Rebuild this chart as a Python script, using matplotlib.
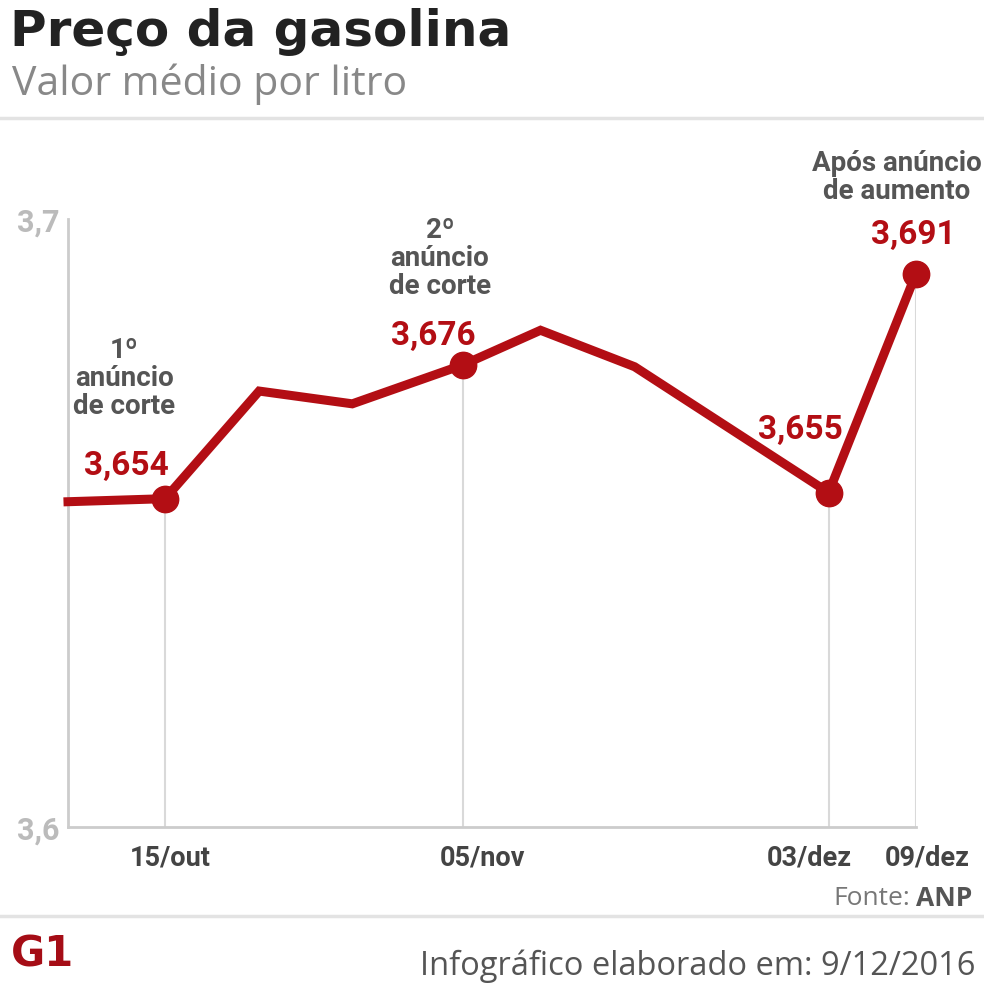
import matplotlib.pyplot as plt

week = [0, 1.0, 1.97, 2.93, 4.07, 4.87, 5.84, 7.84, 8.74]
price = [3.6535, 3.654, 3.6717, 3.6696, 3.676, 3.6817, 3.6757, 3.655, 3.691]

# highlighted dates
tick_week = [1.0, 4.07, 7.84, 8.74]
tick_labels = ['15/out', '05/nov', '03/dez', '09/dez']
hl_price = [3.654, 3.676, 3.655, 3.691]
hl_text = ['3,654', '3,676', '3,655', '3,691']
notes = ['1º\nanúncio\nde corte', '2º\nanúncio\nde corte', '', 'Após anúncio\nde aumento']

RED = '#b30e14'
W, H = 984, 987
cond = ['Roboto', 'DejaVu Sans']
sans = ['Open Sans', 'DejaVu Sans']

fig = plt.figure(figsize=(W / 100, H / 100), dpi=100)
fig.patch.set_facecolor('white')

def fx(px):
    return px / W

def fy(py):
    return 1 - py / H

ax = fig.add_axes([fx(68), fy(828), fx(916 - 68), 608 / H])
ax.set_xlim(0, 8.74)
ax.set_ylim(3.6, 3.7)

for s in ['top', 'right']:
    ax.spines[s].set_visible(False)
for s in ['left', 'bottom']:
    ax.spines[s].set_color('#cccccc')
    ax.spines[s].set_linewidth(2)

# light vertical guides under highlighted points
for xw, yv in zip(tick_week, hl_price):
    ax.plot([xw, xw], [3.6, yv], color='#d9d9d9', lw=1.5, zorder=1)

ax.plot(week, price, color=RED, lw=6.5, solid_joinstyle='miter', zorder=3, clip_on=False)
ax.plot(tick_week, hl_price, 'o', color=RED, ms=19, zorder=4, clip_on=False)

ax.set_yticks([3.6, 3.7])
ax.set_yticklabels(['3,6', '3,7'], family=cond, fontweight='bold', fontsize=22, color='#bbbbbb')
ax.tick_params(axis='y', length=0, pad=6)
ax.set_xticks([])

# date labels, nudged like the original
lab_dx = [5, 20, -19, 11]
for xw, lab, dx in zip(tick_week, tick_labels, lab_dx):
    ax.annotate(lab, (xw, 0), xycoords=('data', 'axes fraction'), xytext=(dx * 0.72, -30 * 0.72),
                textcoords='offset points', ha='center', va='center',
                family=cond, fontweight='bold', fontsize=19.5, color='#444444', annotation_clip=False)

# value labels and notes (offsets in pixels)
val_off = [(-39, 34), (-30, 30), (-28, 64), (-3, 40)]
note_off = [(-41, 121), (-23, 107), (0, 0), (-19, 97)]
for i in range(4):
    dx, dy = val_off[i]
    ax.annotate(hl_text[i], (tick_week[i], hl_price[i]), xytext=(dx * 0.72, dy * 0.72),
                textcoords='offset points', ha='center', va='center',
                family=cond, fontweight='bold', fontsize=24, color=RED, annotation_clip=False)
    if notes[i]:
        dx, dy = note_off[i]
        ax.annotate(notes[i], (tick_week[i], hl_price[i]), xytext=(dx * 0.72, dy * 0.72),
                    textcoords='offset points', ha='center', va='center', linespacing=1.05,
                    family=cond, fontweight='bold', fontsize=20, color='#555555',
                    annotation_clip=False)

# header
fig.text(fx(10), fy(32), 'Preço da gasolina', family=['DejaVu Sans'], fontweight='bold',
         fontsize=36, color='#222222', va='center', ha='left')
fig.text(fx(12), fy(84), 'Valor médio por litro', family=sans,
         fontsize=29.5, color='#888888', va='center', ha='left')
fig.add_artist(plt.Line2D([0, 1], [fy(119), fy(119)], color='#e3e3e3', lw=2.5))

# footer
anp = fig.text(fx(972), fy(899), 'ANP', family=sans, fontweight='bold',
               fontsize=19, color='#555555', ha='right', va='center')
fig.canvas.draw()
bb = anp.get_window_extent()
fig.text((bb.x0 - 6) / W, fy(899), 'Fonte:', family=sans,
         fontsize=19, color='#777777', ha='right', va='center')
fig.add_artist(plt.Line2D([0, 1], [fy(917), fy(917)], color='#e3e3e3', lw=2.5))
fig.text(fx(11), fy(955), 'G1', family=['DejaVu Sans'], fontweight='bold',
         fontsize=30, color='#a50d16', ha='left', va='center')
fig.text(fx(976), fy(966), 'Infográfico elaborado em: 9/12/2016', family=sans,
         fontsize=23.5, color='#555555', ha='right', va='center')

fig.savefig('out.png', dpi=100, facecolor='white')
